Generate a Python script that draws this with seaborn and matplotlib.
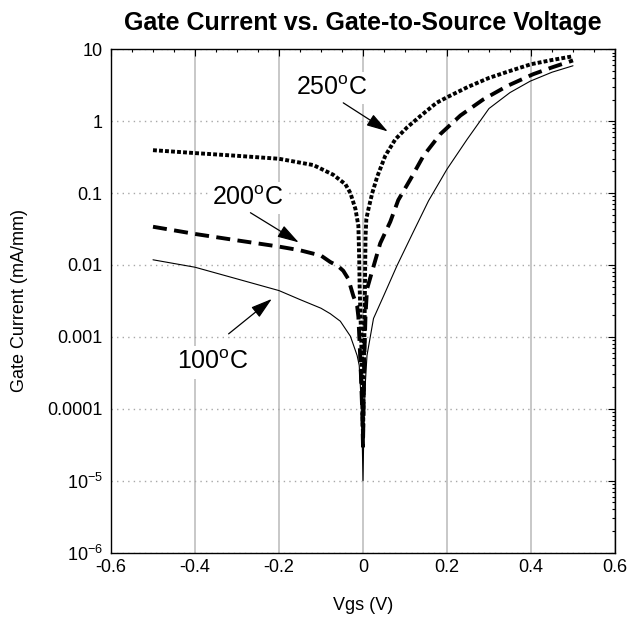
import matplotlib
matplotlib.use("Agg")
import matplotlib.pyplot as plt
import matplotlib.ticker as mticker
import seaborn as sns
import numpy as np

# ---- data ----
vgs_250 = [-0.5, -0.4, -0.3, -0.2, -0.118, -0.071, -0.042, -0.03, -0.018, -0.011, -0.009,
           -0.008, -0.006, -0.004, -0.002, 0.0, 0.002, 0.004, 0.005, 0.006, 0.008, 0.013,
           0.022, 0.034, 0.053, 0.077, 0.105, 0.136, 0.175, 0.2, 0.25, 0.3, 0.35, 0.4, 0.45, 0.5]
ig_250 = [0.395, 0.36, 0.33, 0.30, 0.245, 0.18, 0.133, 0.10, 0.06, 0.035, 0.012,
          0.005, 0.002, 0.0008, 0.0002, 0.00004, 0.0003, 0.002, 0.008, 0.025, 0.044, 0.06,
          0.10, 0.17, 0.33, 0.56, 0.82, 1.17, 1.8, 2.15, 3.0, 4.0, 5.0, 6.2, 7.1, 8.0]

vgs_200 = [-0.5, -0.4, -0.3, -0.2, -0.15, -0.1, -0.078, -0.06, -0.047, -0.035, -0.023,
           -0.014, -0.011, -0.008, -0.005, -0.002, 0.0, 0.003, 0.006, 0.0095, 0.021, 0.041,
           0.065, 0.084, 0.113, 0.144, 0.184, 0.232, 0.286, 0.344, 0.405, 0.45, 0.5]
ig_200 = [0.034, 0.027, 0.022, 0.018, 0.016, 0.0135, 0.011, 0.0097, 0.0083, 0.0064, 0.0037,
          0.0027, 0.0019, 0.0008, 0.0003, 0.0001, 0.00003, 0.0005, 0.002, 0.0046, 0.0079, 0.02,
          0.04, 0.08, 0.156, 0.33, 0.66, 1.2, 2.0, 3.1, 4.5, 5.6, 7.0]

vgs_100 = [-0.5, -0.4, -0.3, -0.2, -0.15, -0.1, -0.078, -0.054, -0.03, -0.014, -0.009,
           -0.005, -0.002, 0.0, 0.002, 0.005, 0.0095, 0.025, 0.049, 0.081, 0.12, 0.156,
           0.2, 0.248, 0.3, 0.35, 0.398, 0.45, 0.5]
ig_100 = [0.0118, 0.0093, 0.0064, 0.0044, 0.0033, 0.0025, 0.0021, 0.00165, 0.00102, 0.00055, 0.0004,
          0.00015, 0.00004, 0.00001, 0.00005, 0.0002, 0.00055, 0.0018, 0.0037, 0.0098, 0.029, 0.078,
          0.215, 0.56, 1.5, 2.5, 3.6, 4.8, 5.9]

x_ticks = [-0.6, -0.4, -0.2, 0, 0.2, 0.4, 0.6]
x_tick_labels = ["-0.6", "-0.4", "-0.2", "0", "0.2", "0.4", "0.6"]
y_ticks = [10, 1, 0.1, 0.01, 0.001, 0.0001, 1e-5, 1e-6]
y_tick_labels = ["10", "1", "0.1", "0.01", "0.001", "0.0001",
                 r"10$^{\mathregular{-5}}$", r"10$^{\mathregular{-6}}$"]

labels = ["250$^{\\mathregular{o}}$C", "200$^{\\mathregular{o}}$C", "100$^{\\mathregular{o}}$C"]

# ---- style ----
sns.set_theme(style="white")
plt.rcParams["font.family"] = ["Liberation Sans", "DejaVu Sans"]
plt.rcParams["mathtext.fontset"] = "custom"
plt.rcParams["mathtext.rm"] = "Liberation Sans"
plt.rcParams["mathtext.it"] = "Liberation Sans:italic"
plt.rcParams["mathtext.bf"] = "Liberation Sans:bold"
plt.rcParams["axes.formatter.use_mathtext"] = False
plt.rcParams["text.color"] = "black"
plt.rcParams["axes.labelcolor"] = "black"
plt.rcParams["xtick.color"] = "black"
plt.rcParams["ytick.color"] = "black"

fig = plt.figure(figsize=(6.29, 6.27), dpi=100)
ax = fig.add_axes([111 / 629, 74.5 / 627, 504 / 629, 503.2 / 627])
ax.set_yscale("log")

# grid
for xv in x_ticks:
    ax.axvline(xv, color="#c4c4c4", lw=1.3, zorder=0)
for yv in y_ticks:
    ax.axhline(yv, color="#a8a8a8", lw=1.0, ls=(0, (1, 3)), zorder=0)

sns.lineplot(x=vgs_100, y=ig_100, ax=ax, color="black", lw=0.8, sort=False,
             estimator=None, zorder=3)
sns.lineplot(x=vgs_200, y=ig_200, ax=ax, color="black", lw=2.8, sort=False,
             estimator=None, zorder=3)
ax.lines[-1].set_dashes((3.6, 1.9))
ax.lines[-1].set_dash_capstyle("butt")
sns.lineplot(x=vgs_250, y=ig_250, ax=ax, color="black", lw=2.8, sort=False,
             estimator=None, zorder=3)
ax.lines[-1].set_dashes((1.0, 0.55))
ax.lines[-1].set_dash_capstyle("butt")

ax.set_xlim(-0.6, 0.6)
ax.set_ylim(1e-6, 10)
ax.set_xticks(x_ticks)
ax.set_xticklabels(x_tick_labels)
ax.xaxis.set_minor_locator(mticker.MultipleLocator(0.05))
ax.set_yticks(y_ticks)
ax.set_yticklabels(y_tick_labels)
ax.yaxis.set_minor_locator(mticker.LogLocator(base=10, subs=np.arange(2, 10), numticks=20))
ax.yaxis.set_minor_formatter(mticker.NullFormatter())

ax.tick_params(which="both", direction="in", top=True, right=True, colors="black",
               labelcolor="black", labelsize=13, width=0.8)
ax.tick_params(which="major", length=5)
ax.tick_params(which="minor", length=2.5)
ax.tick_params(axis="y", pad=6)
ax.tick_params(axis="x", pad=5)
for s in ax.spines.values():
    s.set_color("black")
    s.set_linewidth(1.0)
    s.set_zorder(5)

ax.set_title("Gate Current vs. Gate-to-Source Voltage", fontsize=18,
             fontweight="bold", pad=14, color="black")
ax.set_xlabel("Vgs (V)", fontsize=13, labelpad=15, color="black")
ax.set_ylabel("Gate Current (mA/mm)", fontsize=13, labelpad=14, color="black")

# annotations
text_pos = [(-0.075, 2.9), (-0.275, 0.086), (-0.359, 0.00044)]
arrow_start = [(-0.047, 1.8), (-0.268, 0.0533), (-0.32, 0.0011)]
arrow_tip = [(0.059, 0.72), (-0.153, 0.0206), (-0.217, 0.00337)]
for lab, tp, st, tip in zip(labels, text_pos, arrow_start, arrow_tip):
    ax.text(tp[0], tp[1], lab, fontsize=18, ha="center", va="center", zorder=4,
            color="black", bbox=dict(facecolor="white", edgecolor="none", pad=3))
    ax.annotate("", xy=tip, xytext=st, zorder=4,
                arrowprops=dict(arrowstyle="-|>,head_length=0.6,head_width=0.18",
                                color="black", lw=0.9,
                                mutation_scale=22, shrinkA=0, shrinkB=0))

fig.savefig("out.png", dpi=100, facecolor="white")
